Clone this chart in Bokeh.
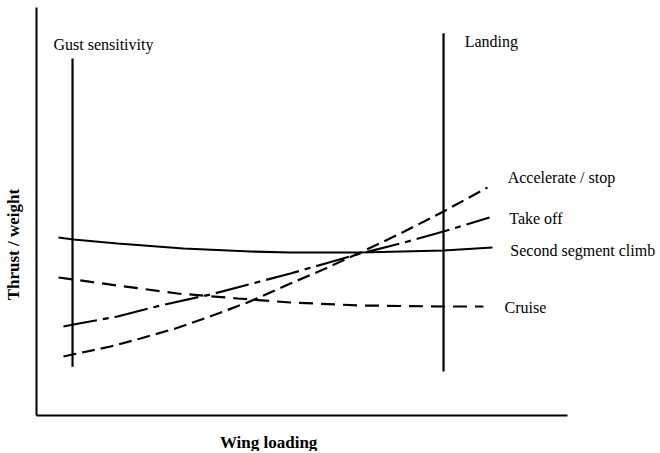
from bokeh.plotting import figure
from bokeh.models import Range1d, Label
from bokeh.embed import file_html
from bokeh.resources import INLINE
import math

# Data (arbitrary schematic units: wing loading 0-100, thrust/weight 0-100)
climb_x = [4.15, 6.98, 15.28, 27.74, 40.38, 47.92, 61.13, 76.79, 86.04]
climb_y = [43.73, 43.24, 42.26, 41.03, 40.29, 40.05, 40.05, 40.54, 41.28]

cruise_x = [4.15, 6.98, 15.28, 26.60, 37.92, 47.92, 61.13, 76.79, 84.34]
cruise_y = [33.90, 33.42, 31.94, 29.98, 28.75, 27.76, 27.03, 26.78, 26.78]

takeoff_x = [5.09, 6.98, 15.28, 23.40, 32.83, 47.92, 54.53, 61.13, 68.68, 76.79, 85.47]
takeoff_y = [21.87, 22.36, 24.32, 27.03, 29.73, 34.89, 37.35, 39.80, 42.26, 45.21, 48.65]

accel_x = [5.09, 6.79, 13.96, 19.62, 26.23, 32.26, 39.81, 47.92, 54.53, 61.13, 68.68, 76.79, 85.09]
accel_y = [14.50, 14.99, 16.95, 18.92, 21.38, 24.08, 27.76, 32.43, 36.12, 40.05, 44.72, 50.12, 56.02]

gust_x = 6.8
gust_y = [12.0, 87.7]
landing_x = 76.8
landing_y = [10.8, 93.9]

FONT = "Liberation Serif"

p = figure(frame_width=658, frame_height=451, output_backend="svg",
           toolbar_location=None, min_border=0,
           x_range=Range1d(-6.79, 117.36), y_range=Range1d(-8.85, 101.97))
p.outline_line_color = None
p.xgrid.visible = False
p.ygrid.visible = False
for ax in (p.xaxis[0], p.yaxis[0]):
    ax.axis_line_width = 2
    ax.axis_line_color = "black"
    ax.major_tick_line_color = None
    ax.minor_tick_line_color = None
    ax.major_tick_out = 0
    ax.major_tick_in = 0
    ax.minor_tick_out = 0
    ax.major_label_standoff = 0
    ax.major_label_text_font_size = "0px"
    ax.major_label_text_color = None
    ax.fixed_location = 0
    ax.bounds = (0, 100.2)

# Constraint lines
p.line(climb_x, climb_y, line_color="black", line_width=2.2)
p.line(cruise_x, cruise_y, line_color="black", line_width=2.2, line_dash="14 8")
p.line(takeoff_x, takeoff_y, line_color="black", line_width=2.2, line_dash="34 6 6 6")
p.line(accel_x, accel_y, line_color="black", line_width=2.2, line_dash="13 6")

p.line([gust_x, gust_x], gust_y, line_color="black", line_width=2.2)
p.line([landing_x, landing_x], landing_y, line_color="black", line_width=2.2)

def lab(x, y, t, **kw):
    p.add_layout(Label(x=x, y=y, text=t, text_font=FONT, text_font_size="16px",
                       text_color="black", text_baseline="middle", **kw))

lab(3.2, 91.2, "Gust sensitivity")
lab(80.8, 91.9, "Landing")
lab(88.9, 58.5, "Accelerate / stop")
lab(89.2, 48.4, "Take off")
lab(89.4, 40.5, "Second segment climb")
lab(88.3, 26.5, "Cruise")

p.add_layout(Label(x=43.8, y=-6.7, text="Wing loading", text_font=FONT,
                   text_font_size="17px", text_font_style="bold", text_color="black",
                   text_align="center", text_baseline="middle"))
p.add_layout(Label(x=-4.34, y=42.0, text="Thrust / weight", text_font=FONT,
                   text_font_size="17px", text_font_style="bold", text_color="black",
                   text_align="center", text_baseline="middle", angle=math.pi / 2))

open("out.html", "w").write(file_html(p, INLINE))
